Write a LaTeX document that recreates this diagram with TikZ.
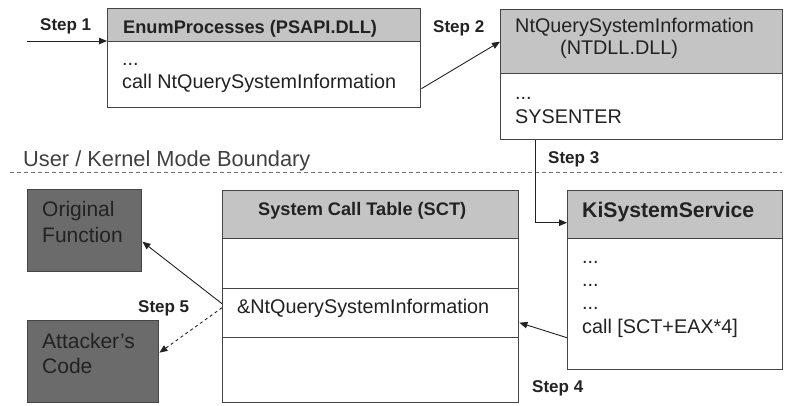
\documentclass[tikz,border=0pt]{standalone}
\usepackage{fontspec}
\setmainfont{Liberation Sans}
\usetikzlibrary{arrows.meta}
\definecolor{hdrgray}{HTML}{C4C4C4}
\definecolor{darkfill}{HTML}{6B6B6B}
\definecolor{edge}{HTML}{454545}
\definecolor{ink}{HTML}{222222}
\tikzset{
  box/.style={draw=edge, line width=1.4pt, inner sep=0pt, anchor=north west},
  hdr/.style={box, fill=hdrgray},
  plain/.style={box, fill=white},
  darkbox/.style={box, fill=darkfill},
  txt/.style={anchor=base west, inner sep=0pt, text=ink, font=\fontsize{19.8}{23}\selectfont},
  htxt/.style={txt, font=\fontsize{18.2}{21}\selectfont\bfseries},
  big/.style={txt, font=\fontsize{21}{24}\selectfont},
  steplbl/.style={txt, font=\fontsize{17}{19}\selectfont\bfseries},
  arr/.style={draw=ink, line width=0.9pt, -{Triangle[length=8pt,width=6.5pt]}},
}
\begin{document}
\begin{tikzpicture}[x=1pt,y=-1pt]
\useasboundingbox (0,0) rectangle (787,405);

% EnumProcesses
\node[hdr, minimum width=313pt, minimum height=33pt] (enumH) at (107,8) {};
\node[plain, minimum width=313pt, minimum height=66pt] (enumB) at (107,41) {};
\node[htxt] (enumT) at (123,33) {EnumProcesses (PSAPI.DLL)};
\node[txt] (enumD) at (122,65) {...};
\node[txt] (enumC) at (122,88) {call NtQuerySystemInformation};

% NtQuerySystemInformation
\node[hdr, minimum width=282pt, minimum height=64pt] (ntH) at (500,9) {};
\node[plain, minimum width=282pt, minimum height=66pt] (ntB) at (500,73) {};
\node[txt] (ntT1) at (515,32) {NtQuerySystemInformation};
\node[txt] (ntT2) at (560,54) {(NTDLL.DLL)};
\node[txt] (ntD) at (515,99) {...};
\node[txt] (ntS) at (515,123) {SYSENTER};

% KiSystemService
\node[hdr, minimum width=215pt, minimum height=48pt] (kiH) at (567,190) {};
\node[plain, minimum width=215pt, minimum height=131pt] (kiB) at (567,238) {};
\node[txt, font=\fontsize{21.2}{24}\selectfont\bfseries] (kiT) at (582,217) {KiSystemService};
\node[txt] (kiD1) at (582,263) {...};
\node[txt] (kiD2) at (582,286) {...};
\node[txt] (kiD3) at (582,309) {...};
\node[txt] (kiC) at (582,333) {call [SCT+EAX*4]};

% System Call Table
\node[hdr, minimum width=296pt, minimum height=48pt] (sctH) at (222,190) {};
\node[plain, minimum width=296pt, minimum height=50pt] (sct1) at (222,238) {};
\node[plain, minimum width=296pt, minimum height=49pt] (sct2) at (222,288) {};
\node[plain, minimum width=296pt, minimum height=65pt] (sct3) at (222,337) {};
\node[htxt] (sctT) at (258,215) {System Call Table (SCT)};
\node[txt] (sctE) at (237,313) {\&NtQuerySystemInformation};

% Targets of the table entry
\node[darkbox, minimum width=114pt, minimum height=82pt] (orig) at (27,189) {};
\node[big] (origT1) at (42,216) {Original};
\node[big] (origT2) at (42,242) {Function};
\node[darkbox, minimum width=131pt, minimum height=82pt] (att) at (27,320) {};
\node[big] (attT1) at (42,348) {Attacker's};
\node[big] (attT2) at (42,373) {Code};

% Mode boundary
\coordinate (bl) at (10,172);
\coordinate (br) at (782,172);
\draw[draw=black!55, line width=1pt, dash pattern=on 4pt off 3pt] (bl) -- (br);
\node[big, font=\fontsize{21.8}{24}\selectfont, text=black!75] (bound) at (23,166) {User / Kernel Mode Boundary};

% Step labels
\node[steplbl] (s1l) at (40,30) {Step 1};
\node[steplbl] (s2l) at (433,32) {Step 2};
\node[steplbl] (s3l) at (548,163) {Step 3};
\node[steplbl] (s4l) at (532,392) {Step 4};
\node[steplbl] (s5l) at (138,312) {Step 5};

% Connectors
\coordinate (start) at (27,41);
\draw[arr] (start) -- (enumB.north west);
\draw[arr] ([yshift=-14pt]enumB.east) -- (ntH.west);
\draw[arr] ([xshift=35pt]ntB.south west) |- ([yshift=-8pt]kiH.west);
\draw[arr] ([yshift=-33.5pt]kiB.west) -- ([yshift=-9.5pt]sct2.east);
\draw[arr] ([yshift=9.5pt]sct2.west) -- ([yshift=-11pt]orig.east);
\draw[arr, dashed] ([yshift=5.5pt]sct2.west) -- ([yshift=9pt]att.east);
\end{tikzpicture}
\end{document}
